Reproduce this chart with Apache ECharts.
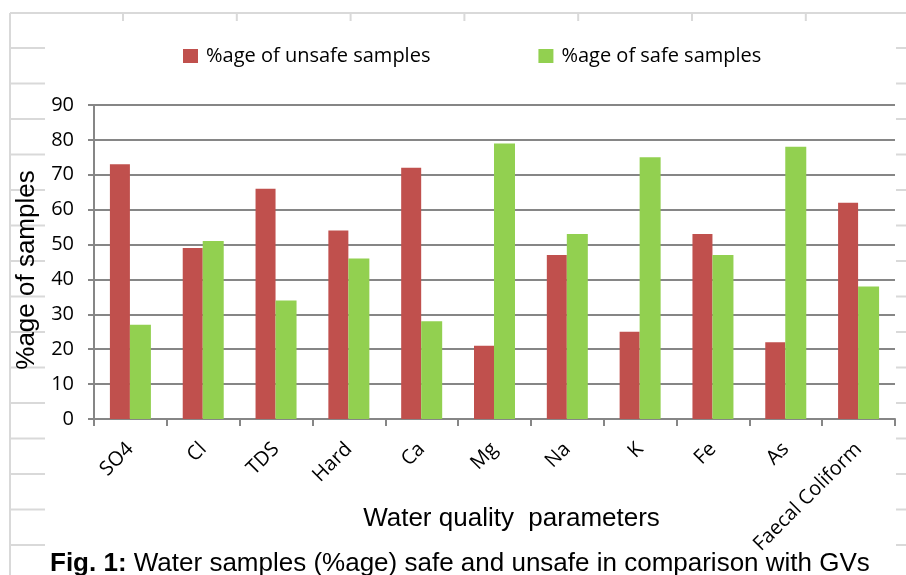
<!DOCTYPE html>
<html><head><meta charset="utf-8">
<script src="https://cdn.jsdelivr.net/npm/echarts@6/dist/echarts.min.js"></script>
<style>html,body{margin:0;padding:0;background:#fff}#c{width:906px;height:575px}</style>
</head><body><div id="c"></div>
<script>
const categories = ['SO4','Cl','TDS','Hard','Ca','Mg','Na','K','Fe','As','Faecal Coliform'];
const unsafe = [73,49,66,54,72,21,47,25,53,22,62];
const safe = [27,51,34,46,28,79,53,75,47,78,38];
const yTicks = {min:0,max:90,interval:10};

const chart = echarts.init(document.getElementById('c'));
const frame = [];
const fc = '#d9d9d9';
frame.push({type:'line',shape:{x1:10,y1:13,x2:906,y2:13},style:{stroke:fc,lineWidth:2},silent:true});
frame.push({type:'line',shape:{x1:10,y1:13,x2:10,y2:575},style:{stroke:fc,lineWidth:2},silent:true});
for(let k=0;k<7;k++){const x=123+113.8*k;frame.push({type:'line',shape:{x1:x,y1:13,x2:x,y2:21},style:{stroke:fc,lineWidth:2},silent:true});}
for(let k=0;k<15;k++){const y=48+35.5*k;frame.push({type:'line',shape:{x1:10,y1:y,x2:45,y2:y},style:{stroke:fc,lineWidth:2},silent:true});frame.push({type:'line',shape:{x1:896,y1:y,x2:906,y2:y},style:{stroke:fc,lineWidth:2},silent:true});}

chart.setOption({
  animation:false,
  graphic: frame,
  title:{
    left:45, top:546,
    text:'{b|Fig. 1:} Water samples (%age) safe and unsafe in comparison with GVs',
    textStyle:{fontFamily:'Liberation Sans',fontSize:26,fontWeight:'normal',color:'#000',
      rich:{b:{fontFamily:'Liberation Sans',fontSize:26,fontWeight:'bold',color:'#000'}}}
  },
  legend:{
    left:183, top:46, padding:0, itemWidth:15, itemHeight:14, itemGap:108,
    icon:'rect',
    textStyle:{fontFamily:'Open Sans',fontSize:20,color:'#000',padding:[0,0,0,3]},
    data:['%age of unsafe samples','%age of safe samples']
  },
  grid:{left:94,right:11,top:105,bottom:156,containLabel:false,outerBoundsMode:'none'},
  xAxis:{
    type:'category', data:categories,
    name:'Water quality  parameters', nameLocation:'middle', nameGap:87, nameMoveOverlap:false,
    nameTextStyle:{fontFamily:'Liberation Sans',fontSize:26,color:'#000',padding:[0,0,0,34]},
    axisLine:{lineStyle:{color:'#868686',width:2}},
    axisTick:{show:true,length:7,lineStyle:{color:'#868686',width:2},alignWithLabel:false},
    axisLabel:{rotate:45,margin:27,fontFamily:'Open Sans',fontSize:20,color:'#000',interval:0}
  },
  yAxis:{
    type:'value', min:yTicks.min, max:yTicks.max, interval:yTicks.interval,
    name:'%age of samples', nameLocation:'middle', nameGap:54, nameRotate:90, nameMoveOverlap:false,
    nameTextStyle:{fontFamily:'Liberation Sans',fontSize:26,color:'#000',padding:[0,16,0,0]},
    axisLine:{show:true,lineStyle:{color:'#868686',width:2}},
    axisTick:{show:true,length:6,lineStyle:{color:'#868686',width:2}},
    axisLabel:{fontFamily:'Open Sans',fontSize:20,color:'#000',margin:20},
    splitLine:{lineStyle:{color:'#868686',width:2}}
  },
  series:[
    {name:'%age of unsafe samples',type:'bar',data:unsafe,barWidth:20,barGap:'0%',
     itemStyle:{color:'#c0504d'}},
    {name:'%age of safe samples',type:'bar',data:safe,barWidth:21,barGap:'0%',
     itemStyle:{color:'#92d050'}}
  ]
});
</script></body></html>
